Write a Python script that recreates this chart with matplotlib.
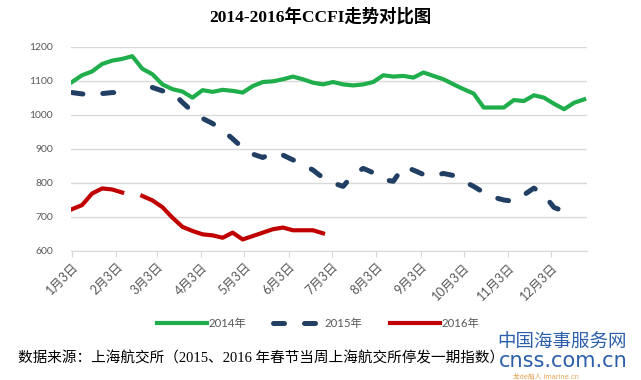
import numpy as np
import pandas as pd
import matplotlib
matplotlib.use("Agg")
import matplotlib.pyplot as plt

plt.rcParams['font.family'] = ['Lato', 'Noto Sans CJK SC', 'DejaVu Sans']

# weekly CCFI values, NaN = week not published
ccfi_2014 = [1097, 1117, 1128, 1150, 1160, 1165, 1173, 1136, 1120, 1090,
             1076, 1069, 1051, 1073, 1068, 1074, 1071, 1066, 1085, 1097,
             1099, 1105, 1113, 1105, 1095, 1090, 1097, 1090, 1087, 1090,
             1097, 1117, 1113, 1115, 1110, 1125, 1115, 1105, 1090, 1076,
             1063, 1022, 1022, 1022, 1044, 1041, 1058, 1051, 1033, 1017,
             1036, 1046]
ccfi_2015 = [1066, 1062, 1059, 1063, 1066, 1066, 1066, np.nan, 1081, 1071,
             1066, 1037, 1010, 990, 975, 955, 930, 903, 885, 875,
             888, 882, 868, 855, 838, 815, 800, 790, 825, 843,
             830, 810, 805, 848, 838, 825, 822, 828, 822, 805,
             790, 772, 758, 750, 746, 765, 785, 765, 728, 717]
ccfi_2016 = [723, 735, 769, 784, 781, 772, np.nan, 762, 749, 729,
             698, 671, 659, 649, 646, 639, 654, 634, 644, 654,
             664, 669, 661, 661, 661, 652]

series_names = ['2014年', '2015年', '2016年']
tick_labels = ['1月3日', '2月3日', '3月3日', '4月3日', '5月3日', '6月3日',
               '7月3日', '8月3日', '9月3日', '10月3日', '11月3日', '12月3日']

start = pd.Timestamp('2014-01-03')
def weeks(vals):
    return pd.date_range(start, periods=len(vals), freq='7D')

tick_dates = [pd.Timestamp(2014, m, 3) for m in range(1, 13)]

fig = plt.figure(figsize=(6.41, 3.80), dpi=100)
ax = fig.add_axes([71/641, 1-251/380, (587-71)/641, (251-47)/380])

ax.plot(weeks(ccfi_2014), ccfi_2014, color='#1fae4b', lw=3.0,
        solid_joinstyle='round', label=series_names[0])
ax.plot(weeks(ccfi_2015), ccfi_2015, color='#213e63', lw=3.6,
        linestyle=(0, (2.2, 4.0)), dash_capstyle='round', label=series_names[1])
ax.plot(weeks(ccfi_2016), ccfi_2016, color='#c00000', lw=3.0,
        solid_joinstyle='round', label=series_names[2])

ax.set_ylim(600, 1200)
ax.set_yticks(range(600, 1201, 100))
ax.set_xlim(start - pd.Timedelta(days=0.7), start + pd.Timedelta(days=359))
ax.set_xticks(tick_dates)
ax.set_xticklabels(tick_labels, rotation=45, ha='right', va='top',
                   rotation_mode='anchor')

ax.grid(axis='y', color='#d9d9d9', lw=1)
ax.set_axisbelow(True)
for s in ['top', 'right', 'left']:
    ax.spines[s].set_visible(False)
ax.spines['bottom'].set_color('#d9d9d9')
ax.tick_params(axis='y', length=0, pad=13, labelsize=7.5, labelcolor='#595959')
ax.tick_params(axis='x', length=4, color='#d9d9d9', pad=3, labelsize=9,
               labelcolor='#595959')

fig.text(0.5, 1-17/380, '2014-2016年CCFI走势对比图', ha='center', va='center',
         fontsize=12.5, fontweight='bold',
         family=['Liberation Serif', 'Noto Sans CJK SC'])

fig.legend(loc='center', bbox_to_anchor=(318/641, 1-323/380), ncol=3,
           frameon=False, fontsize=8.2, handlelength=4.4, columnspacing=2.4,
           labelcolor='#595959', handletextpad=0.1)

fig.text(18/641, 1-358/380,
         '数据来源：上海航交所（2015、2016 年春节当周上海航交所停发一期指数）',
         ha='left', va='center', fontsize=10.5,
         family=['Liberation Serif', 'Noto Sans CJK SC'])

# watermark
fig.text(627/641, 1-342/380, '中国海事服务网', ha='right', va='center',
         fontsize=13.3, color='#2b5fab')
fig.text(628/641, 1-361/380, 'cnss.com.cn', ha='right', va='center',
         fontsize=15, color='#2b5fab', family='DejaVu Sans')
fig.text(513/641, 1-376.5/380, '龙de船人 imarine.cn', ha='left', va='center',
         fontsize=4.8, color='#e0a050', family=['DejaVu Sans', 'Noto Sans CJK SC'])

fig.savefig('out.png', dpi=100)
